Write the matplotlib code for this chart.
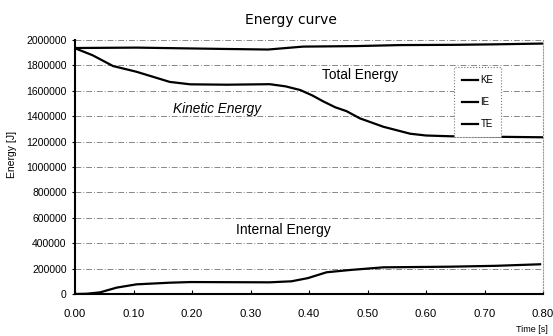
import numpy as np
import matplotlib.pyplot as plt
from matplotlib.lines import Line2D

plt.rcParams['font.family'] = ['Liberation Sans', 'DejaVu Sans']

# time [s] and energies [J]
t_ke = [0.0, 0.03, 0.065, 0.105, 0.162, 0.197, 0.26, 0.333, 0.36, 0.385, 0.405, 0.425,
        0.445, 0.464, 0.487, 0.527, 0.573, 0.60, 0.641, 0.72, 0.80]
ke = [1935000, 1880000, 1795000, 1750000, 1670000, 1651000, 1648000, 1652000, 1635000,
      1606000, 1565000, 1515000, 1470000, 1440000, 1383000, 1317000, 1262000, 1248000,
      1242000, 1238000, 1234000]

t_ie = [0.0, 0.02, 0.043, 0.071, 0.105, 0.162, 0.197, 0.333, 0.37, 0.398, 0.43,
        0.47, 0.527, 0.641, 0.72, 0.795]
ie = [0, 2000, 13000, 50000, 76000, 89000, 94000, 92000, 100000, 125000, 171000,
      189000, 210000, 215000, 222000, 234000]

t_te = [0.0, 0.105, 0.248, 0.33, 0.39, 0.48, 0.556, 0.65, 0.72, 0.80]
te = [1937000, 1940000, 1930000, 1925000, 1948000, 1952000, 1960000, 1962000, 1966000, 1972000]

xticks = [0.0, 0.1, 0.2, 0.3, 0.4, 0.5, 0.6, 0.7, 0.8]
yticks = list(range(0, 2000001, 200000))

fig = plt.figure(figsize=(5.53, 3.36), dpi=100)
ax = fig.add_axes([75 / 553, 1 - 294 / 336, 468 / 553, 254 / 336])

ax.plot(t_ke, ke, color='black', lw=1.6)
ax.plot(t_ie, ie, color='black', lw=1.6)
ax.plot(t_te, te, color='black', lw=1.6)

ax.set_xlim(0, 0.8)
ax.set_ylim(0, 2000000)
ax.set_xticks(xticks)
ax.set_xticklabels(['%.2f' % v for v in xticks], fontsize=8.2)
ax.set_yticks(yticks)
ax.set_yticklabels([str(v) for v in yticks], fontsize=7.5)
ax.tick_params(axis='x', direction='in', length=3, pad=11, color='black')
ax.tick_params(axis='y', direction='out', length=2, pad=4)

ax.grid(axis='y', color='#888888', lw=0.7, ls=(0, (6, 2, 1, 2)))
ax.spines['left'].set_linewidth(1.5)
ax.spines['bottom'].set_linewidth(1.5)
ax.spines['top'].set_visible(False)
ax.spines['right'].set_color('#999999')
ax.spines['right'].set_linestyle(':')
ax.spines['right'].set_linewidth(0.8)

ax.text(0.488, 1724000, 'Total Energy', fontsize=9.8, ha='center', va='center')
ax.text(0.242, 1457000, 'Kinetic Energy', fontsize=9.8, ha='center', va='center',
        style='italic')
ax.text(0.356, 504000, 'Internal Energy', fontsize=10, ha='center', va='center')

handles = [Line2D([], [], color='black', lw=1.6) for _ in range(3)]
leg = ax.legend(handles, ['KE', 'IE', 'TE'], loc='upper left',
                bbox_to_anchor=(0.80, 0.912), fontsize=7, handlelength=1.6,
                handletextpad=0.3, labelspacing=1.25, borderpad=0.8,
                fancybox=False, framealpha=1)
leg.get_frame().set_edgecolor('#777777')
leg.get_frame().set_linestyle(':')
leg.get_frame().set_linewidth(0.8)

fig.text(291 / 553, 1 - 20 / 336, 'Energy curve', fontsize=10, ha='center',
         va='center', family='DejaVu Sans')
fig.text(12 / 553, 1 - 154 / 336, 'Energy [J]', fontsize=7.5, rotation=90,
         ha='center', va='center')
fig.text(548 / 553, 1 - 329 / 336, 'Time [s]', fontsize=6.5, ha='right',
         va='center')

fig.savefig('out.png', dpi=100)
